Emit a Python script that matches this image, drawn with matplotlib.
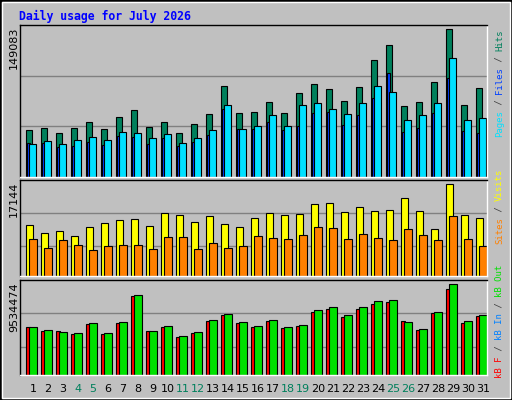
import matplotlib
matplotlib.use("Agg")
import matplotlib.pyplot as plt
from matplotlib.patches import Rectangle

days = list(range(1, 32))
weekend = [4, 5, 11, 12, 18, 19, 25, 26]
hits = [47900,49900,44900,49900,56000,48900,61000,68100,50900,56000,44900,54000,63100,91400,65100,66100,
        76200,65100,84300,93400,88400,77200,90400,117700,132900,71200,75200,95500,149083,72200,89400]
files = [34700,34700,30700,31700,35700,32700,41800,40800,33700,39800,31700,35700,42800,69100,48900,48900,
         56000,47900,51900,64100,66100,52900,62100,79300,104600,45900,49900,64100,99500,46900,44900]
pages = [33700,36800,33700,37800,40800,37800,45900,44900,39800,43900,34700,39800,47900,72200,48900,51900,
         62100,51900,72200,74200,69100,63100,74200,91400,86300,58000,62100,74200,119700,58000,60000]
visits = [9470,7970,8350,7410,9100,9840,10400,10590,9280,11710,11340,10030,11150,9660,9100,10780,
          11710,11340,11530,13390,13580,11900,12830,12090,12270,14520,12090,8720,17144,11340,10780]
sites = [6850,5170,6670,5730,4800,5540,5730,5730,4980,7230,7230,4980,6110,5170,5540,7410,
         7040,6850,7600,9100,8910,6850,7790,7040,6670,8720,7600,6670,11150,6850,5540]
kb_out = [5012600,4697100,4486800,4381600,5433200,4381600,5538400,8377700,4591900,5117700,4066100,4486800,
          5748700,6379600,5538400,5117700,5748700,5012600,5222900,6800300,7115800,6274500,7115800,7746700,
          7851900,5538400,4802300,6590000,9534474,5643500,6274500]
kb_f = [5012600,4591900,4591900,4276500,5328100,4276500,5433200,8272500,4591900,5012600,3961000,4381600,
        5643500,6274500,5433200,5012600,5643500,4907400,5117700,6590000,6905400,6064200,6905400,7431200,
        7641600,5643500,4697100,6484800,9008600,5433200,6169300]
kb_in = [20000]*31

W, H = 512, 400
fig = plt.figure(figsize=(5.12, 4.0), dpi=100)
fig.patch.set_facecolor("#c0c0c0")
fig.add_artist(Rectangle((0, 0), 1, 1, transform=fig.transFigure, fill=False, ec="black", lw=2))
fig.add_artist(Rectangle((2/W, 2/H), 1-4/W, 1-4/H, transform=fig.transFigure, fill=False, ec="white", lw=1))

def ax_at(x0, y0, x1, y1):
    return fig.add_axes([x0/W, 1-y1/H, (x1-x0)/W, (y1-y0)/H])

MONO = "DejaVu Sans Mono"
fig.text(19/W, 1-16/H, "Daily usage for July 2026", color="#0000ff", fontsize=8.3,
         fontweight="bold", family=MONO, va="center")

def style(ax, ymax_val, top_px, bot_px, peak_px, grids):
    h = bot_px - top_px
    ax.set_ylim(0, ymax_val*h/(bot_px-peak_px))
    ax.set_xlim(0, 31.13)
    ax.set_facecolor("#c0c0c0")
    for g in grids:
        ax.axhline(ax.get_ylim()[1]*g, color="#808080", lw=1, zorder=0)
    ax.set_xticks([]); ax.set_yticks([])
    for s in ["top", "left"]:
        ax.spines[s].set_color("black")
    for s in ["bottom", "right"]:
        ax.spines[s].set_color("white")
    for s in ax.spines.values():
        s.set_linewidth(1)
    fig.text(9/W, 1-top_px/H - 2/H, str(ymax_val), rotation=90, fontsize=8, family="DejaVu Sans",
             va="top", ha="left", color="black")

def bars(ax, vals, o0, o1, color):
    x = [d-1+o0 for d in days]
    ax.bar(x, vals, width=o1-o0, align="edge", color=color, edgecolor="black", lw=0.8)

def rlabel(parts, bot_px):
    y = 1-bot_px/H
    for txt, col in parts:
        fig.text(495/W, y, txt, rotation=90, color=col, fontsize=6.5, family=MONO,
                 va="bottom", ha="left")
        y += len(txt)*5.4/H

ax1 = ax_at(20, 25, 487, 177)
style(ax1, 149083, 25, 177, 29.3, [1/3, 2/3])
bars(ax1, hits, 0.38, 0.82, "#00805c")
bars(ax1, files, 0.47, 0.65, "#0040ff")
bars(ax1, pages, 0.60, 1.09, "#00e0ff")
rlabel([("Pages", "#00e0ff"), (" / ", "#404040"), ("Files", "#0040ff"), (" / ", "#404040"), ("Hits", "#00805c")], 137)

ax2 = ax_at(20, 180, 487, 276)
style(ax2, 17144, 180, 276, 184.3, [0.31, 0.656])
bars(ax2, visits, 0.38, 0.89, "#ffff00")
bars(ax2, sites, 0.62, 1.11, "#ff8000")
rlabel([("Sites", "#ff8000"), (" / ", "#404040"), ("Visits", "#ffff00")], 244)

ax3 = ax_at(20, 280, 487, 375)
style(ax3, 9534474, 280, 375, 284.3, [0.30, 0.65])
bars(ax3, kb_f, 0.38, 0.65, "#ff0000")
bars(ax3, kb_in, 0.45, 0.55, "#0080ff")
bars(ax3, kb_out, 0.62, 1.11, "#00e000")
rlabel([("kB F", "#ff0000"), (" / ", "#404040"), ("kB In", "#0080ff"), (" / ", "#404040"), ("kB Out", "#00e000")], 378)

for d in days:
    xpx = 20 + 15*(d-1) + 13
    fig.text(xpx/W, 1-389/H, str(d), ha="center", va="center", fontsize=8, family="DejaVu Sans",
             color="#00805c" if d in weekend else "black")

fig.savefig("out.png", dpi=100, facecolor=fig.get_facecolor())
